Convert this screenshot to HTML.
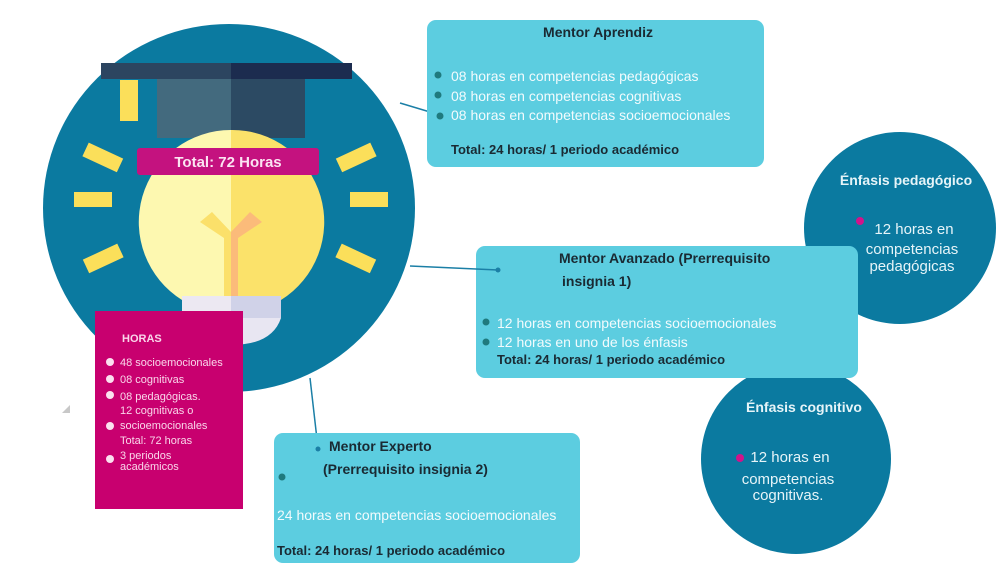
<!DOCTYPE html>
<html><head><meta charset="utf-8"><style>
html,body{margin:0;padding:0;background:#fff;}
svg{display:block;}
text{font-family:"Liberation Sans","DejaVu Sans",sans-serif;}
</style></head><body>
<svg width="999" height="578" viewBox="0 0 999 578" xmlns="http://www.w3.org/2000/svg">
<rect width="999" height="578" fill="#fff"/>
<line x1="400" y1="103" x2="430" y2="112" stroke="#1b7fa6" stroke-width="1.5"/>
<line x1="410" y1="266" x2="498" y2="270" stroke="#1b7fa6" stroke-width="1.5"/>
<line x1="310" y1="378" x2="318" y2="448" stroke="#1b7fa6" stroke-width="1.5"/>
<ellipse cx="229" cy="208" rx="186" ry="184" fill="#0b7aa0"/>
<g fill="#fbdf5a">
<rect x="120" y="80" width="18" height="41"/>
<rect x="74" y="192" width="38" height="15"/>
<rect x="350" y="192" width="38" height="15"/>
<g transform="rotate(25 103 157)"><rect x="84" y="150" width="38" height="15"/></g>
<g transform="rotate(-25 356 157)"><rect x="337" y="150" width="38" height="15"/></g>
<g transform="rotate(-25 103 258)"><rect x="84" y="251" width="38" height="15"/></g>
<g transform="rotate(25 356 258)"><rect x="337" y="251" width="38" height="15"/></g>
</g>
<rect x="157" y="78" width="74" height="60" fill="#436a7e"/>
<rect x="231" y="78" width="74" height="60" fill="#2c4a63"/>
<rect x="101" y="63" width="130" height="16" fill="#2c4560"/>
<rect x="231" y="63" width="121" height="16" fill="#1c2c4f"/>
<path d="M231 130 A92 92 0 0 0 182 300 L231 300 Z" fill="#fdf8b0"/>
<path d="M231 130 A92 92 0 0 1 281 300 L231 300 Z" fill="#fbe26a"/>
<path d="M200 222 L212 212 L231 232 L231 300 L224 300 L224 238 Z" fill="#fbe06a"/>
<path d="M262 222 L250 212 L231 232 L231 300 L238 300 L238 238 Z" fill="#fbbb7a"/>
<rect x="182" y="296" width="49" height="22" fill="#ece8f2"/>
<rect x="231" y="296" width="50" height="22" fill="#d0d2e8"/>
<path d="M182 318 L231 318 L231 345 Q190 345 182 318Z" fill="#f4f0f8"/>
<path d="M231 318 L281 318 Q272 345 231 345Z" fill="#e8e6f2"/>
<rect x="137" y="148" width="182" height="27" rx="3" fill="#c4127f"/>
<text x="228" y="167" text-anchor="middle" font-size="15" font-weight="bold" fill="#fbe4f2">Total: 72 Horas</text>
<rect x="95" y="311" width="148" height="198" fill="#c8006f"/>
<g fill="#f9d6ea" font-size="11">
<text x="122" y="342" font-weight="bold">HORAS</text>
<text x="120" y="366">48 socioemocionales</text>
<text x="120" y="383">08 cognitivas</text>
<text x="120" y="400">08 pedagógicas.</text>
<text x="120" y="414">12 cognitivas o</text>
<text x="120" y="429">socioemocionales</text>
<text x="120" y="444">Total: 72 horas</text>
<text x="120" y="459">3 periodos</text>
<text x="120" y="470">académicos</text>
</g>
<g fill="#fbe0ef">
<circle cx="110" cy="362" r="4"/><circle cx="110" cy="379" r="4"/><circle cx="110" cy="395" r="4"/><circle cx="110" cy="426" r="4"/><circle cx="110" cy="459" r="4"/>
</g>
<path d="M62 413 L70 405 L70 413Z" fill="#c8c8c8"/>
<circle cx="900" cy="228" r="96" fill="#0b7aa0"/>
<circle cx="796" cy="459" r="95" fill="#0b7aa0"/>
<text x="906" y="185" text-anchor="middle" font-size="14" font-weight="bold" fill="#e6f4f8">Énfasis pedagógico</text>
<circle cx="860" cy="221" r="4" fill="#d2138a"/>
<text x="914" y="234" text-anchor="middle" font-size="15" fill="#e6f4f8">12 horas en</text>
<text x="912" y="254" text-anchor="middle" font-size="15" fill="#e6f4f8">competencias</text>
<text x="912" y="271" text-anchor="middle" font-size="15" fill="#e6f4f8">pedagógicas</text>
<text x="804" y="412" text-anchor="middle" font-size="14" font-weight="bold" fill="#e6f4f8">Énfasis cognitivo</text>
<circle cx="740" cy="458" r="4" fill="#d2138a"/>
<text x="790" y="462" text-anchor="middle" font-size="15" fill="#e6f4f8">12 horas en</text>
<text x="788" y="484" text-anchor="middle" font-size="15" fill="#e6f4f8">competencias</text>
<text x="788" y="500" text-anchor="middle" font-size="15" fill="#e6f4f8">cognitivas.</text>
<rect x="427" y="20" width="337" height="147" rx="9" fill="#5ccde0"/>
<text x="598" y="37" text-anchor="middle" font-size="14" font-weight="bold" fill="#1a2a33">Mentor Aprendiz</text>
<g fill="#f2fbfd" font-size="14">
<text x="451" y="81">08 horas en competencias pedagógicas</text>
<text x="451" y="101">08 horas en competencias cognitivas</text>
<text x="451" y="120">08 horas en competencias socioemocionales</text>
</g>
<g fill="#1f7a7e"><circle cx="438" cy="75" r="3.5"/><circle cx="438" cy="95" r="3.5"/><circle cx="440" cy="116" r="3.5"/></g>
<text x="451" y="154" font-size="13" font-weight="bold" fill="#1a2a33">Total: 24 horas/ 1 periodo académico</text>
<rect x="476" y="246" width="382" height="132" rx="9" fill="#5ccde0"/>
<line x1="476" y1="269" x2="498" y2="270" stroke="#1b7fa6" stroke-width="1.5"/>
<circle cx="498" cy="270" r="2.5" fill="#1b7fa6"/>
<text x="559" y="263" font-size="14" font-weight="bold" fill="#1a2a33">Mentor Avanzado (Prerrequisito</text>
<text x="562" y="286" font-size="14" font-weight="bold" fill="#1a2a33">insignia 1)</text>
<g fill="#f2fbfd" font-size="14">
<text x="497" y="328">12 horas en competencias socioemocionales</text>
<text x="497" y="347">12 horas en uno de los énfasis</text>
</g>
<g fill="#1f7a7e"><circle cx="486" cy="322" r="3.5"/><circle cx="486" cy="342" r="3.5"/></g>
<text x="497" y="364" font-size="13" font-weight="bold" fill="#1a2a33">Total: 24 horas/ 1 periodo académico</text>
<rect x="274" y="433" width="306" height="130" rx="9" fill="#5ccde0"/>
<circle cx="318" cy="449" r="2.5" fill="#1b7fa6"/>
<text x="329" y="451" font-size="14" font-weight="bold" fill="#1a2a33">Mentor Experto</text>
<text x="323" y="474" font-size="14" font-weight="bold" fill="#1a2a33">(Prerrequisito insignia 2)</text>
<circle cx="282" cy="477" r="3.5" fill="#1f7a7e"/>
<text x="277" y="520" font-size="14" fill="#f2fbfd">24 horas en competencias socioemocionales</text>
<text x="277" y="555" font-size="13" font-weight="bold" fill="#1a2a33">Total: 24 horas/ 1 periodo académico</text>
</svg>
</body></html>
